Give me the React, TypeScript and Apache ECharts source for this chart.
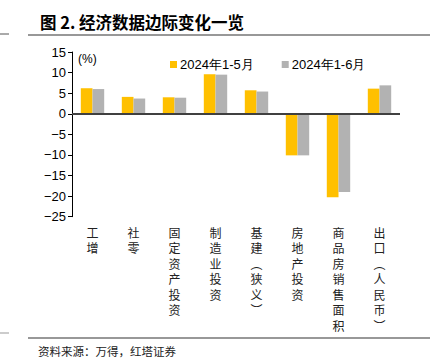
import React, { useEffect, useRef } from "react";
import * as echarts from "echarts";

const categories = ["工增", "社零", "固定资产投资", "制造业投资", "基建︵狭义︶", "房地产投资", "商品房销售面积", "出口︵人民币︶"];
const seriesNames = ["2024年1-5月", "2024年1-6月"];
const valuesMay = [6.2, 4.1, 4.0, 9.6, 5.7, -10.1, -20.3, 6.1];
const valuesJun = [6.0, 3.7, 3.9, 9.5, 5.4, -10.1, -19.0, 6.9];
const yTicks = { min: -25, max: 15, interval: 5 };

export default function App() {
  const ref = useRef<HTMLDivElement>(null);
  useEffect(() => {
    if (!ref.current) return;
    const chart = echarts.init(ref.current, undefined, { renderer: "svg" });
    const sans = "'Liberation Sans', Arial, sans-serif";
    const cjk = "'Noto Sans CJK SC', sans-serif";
    chart.setOption({
      animation: false,
      backgroundColor: "#ffffff",
      grid: { left: 72, right: 41, top: 52, bottom: 146.3, containLabel: false },
      legend: {
        data: seriesNames,
        left: 165,
        top: 53,
        itemWidth: 7,
        itemHeight: 7,
        itemGap: 28,
        icon: "rect",
        textStyle: { fontSize: 13, color: "#000", fontFamily: sans, padding: [0, 0, 0, -2] },
      },
      xAxis: {
        type: "category",
        data: categories,
        axisLine: { show: false },
        axisTick: { show: false },
        axisLabel: {
          interval: 0,
          margin: 8,
          fontSize: 12,
          lineHeight: 15.5,
          color: "#222",
          fontFamily: cjk,
          verticalAlign: "top",
          formatter: (v: string) => Array.from(v).join("\n"),
        },
      },
      yAxis: {
        type: "value",
        min: yTicks.min,
        max: yTicks.max,
        interval: yTicks.interval,
        splitLine: { show: false },
        axisLine: { show: true, lineStyle: { color: "#000", width: 1 } },
        axisTick: { show: true, length: 4, lineStyle: { color: "#000" } },
        axisLabel: {
          fontSize: 13,
          color: "#000",
          fontFamily: sans,
          margin: 6,
          formatter: (v: number) => String(v).replace("-", "−"),
        },
      },
      series: [
        {
          name: seriesNames[0],
          type: "bar",
          data: valuesMay,
          barWidth: 11.7,
          barGap: "0%",
          itemStyle: { color: "#FFC000" },
          markLine: {
            silent: true,
            symbol: "none",
            label: { show: false },
            lineStyle: { color: "#404040", width: 2, type: "solid" },
            data: [{ yAxis: 0 }],
          },
        },
        {
          name: seriesNames[1],
          type: "bar",
          data: valuesJun,
          barWidth: 11.7,
          barGap: "0%",
          itemStyle: { color: "#B2B2B2" },
        },
      ],
      graphic: [
        {
          type: "text",
          left: 40,
          top: 14,
          style: { text: "图 2. 经济数据边际变化一览", fontSize: 16.5, fontWeight: "bold", fill: "#000", fontFamily: cjk },
        },
        { type: "line", shape: { x1: 28, y1: 35, x2: 430, y2: 35 }, style: { stroke: "#333", lineWidth: 1.2 } },
        { type: "line", shape: { x1: 0, y1: 34, x2: 9, y2: 34 }, style: { stroke: "#555", lineWidth: 1 } },
        { type: "line", shape: { x1: 28, y1: 338, x2: 430, y2: 338 }, style: { stroke: "#333", lineWidth: 1.2 } },
        { type: "line", shape: { x1: 0, y1: 333, x2: 9, y2: 333 }, style: { stroke: "#999", lineWidth: 1 } },
        {
          type: "text",
          left: 78,
          top: 53,
          style: { text: "(%)", fontSize: 12, fill: "#000", fontFamily: sans },
        },
        {
          type: "text",
          left: 38,
          top: 345,
          style: { text: "资料来源：万得，红塔证券", fontSize: 11.5, fill: "#222", fontFamily: cjk },
        },
      ],
    });
    return () => chart.dispose();
  }, []);
  return <div ref={ref} style={{ position: "fixed", left: 0, top: 0, width: 441, height: 363 }} />;
}
